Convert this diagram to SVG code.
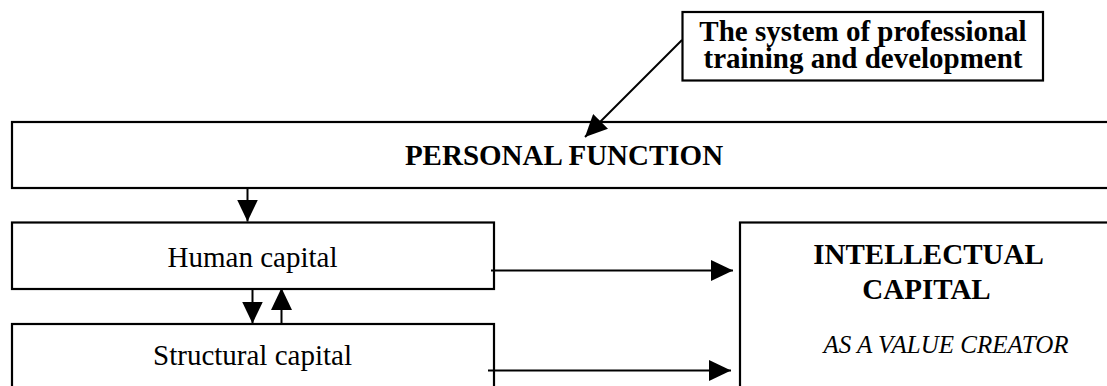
<svg xmlns="http://www.w3.org/2000/svg" width="1107" height="386" viewBox="0 0 1107 386">
<style>
.box{fill:#fff;stroke:#000;stroke-width:2.2}
.t{font-family:"Liberation Serif","Times New Roman",serif;font-size:29px;fill:#000;text-anchor:middle}
.b{font-weight:bold}
.i{font-style:italic;font-size:25px}
.c{stroke:#000;stroke-width:2;fill:none;marker-end:url(#ah)}
</style>
<defs>
<marker id="ah" markerUnits="userSpaceOnUse" markerWidth="22" markerHeight="21" refX="22" refY="10.5" orient="auto">
<path d="M0,0 L22,10.5 L0,21 z" fill="#000"/>
</marker>
</defs>
<rect width="1107" height="386" fill="#fff"/>
<g id="node-training">
<rect class="box" x="682.5" y="12" width="360.5" height="68.5"/>
<text class="t b" x="863" y="40.5">The system of professional</text>
<text class="t b" x="863" y="67.5">training and development</text>
</g>
<g id="node-personal">
<rect class="box" x="12" y="122" width="1110" height="66"/>
<text class="t b" x="564" y="165">PERSONAL FUNCTION</text>
</g>
<g id="node-human">
<rect class="box" x="12" y="222.5" width="482" height="66.5"/>
<text class="t" x="252.5" y="267">Human capital</text>
</g>
<g id="node-structural">
<rect class="box" x="12" y="324" width="482" height="90"/>
<text class="t" x="252.5" y="365">Structural capital</text>
</g>
<g id="node-intellectual">
<rect class="box" x="740" y="222.5" width="400" height="200"/>
<text class="t b" x="928.5" y="264">INTELLECTUAL</text>
<text class="t b" x="926.5" y="299">CAPITAL</text>
<text class="t i" x="946" y="353">AS A VALUE CREATOR</text>
</g>
<g id="connectors">
<line class="c" x1="682" y1="40" x2="585" y2="137"/>
<line class="c" x1="247.5" y1="188" x2="247.5" y2="221.5"/>
<line class="c" x1="252.5" y1="289" x2="252.5" y2="323.5"/>
<line class="c" x1="281.5" y1="324" x2="281.5" y2="288"/>
<line class="c" x1="491" y1="270.5" x2="733" y2="270.5"/>
<line class="c" x1="488" y1="370.5" x2="731" y2="370.5"/>
</g>
</svg>
